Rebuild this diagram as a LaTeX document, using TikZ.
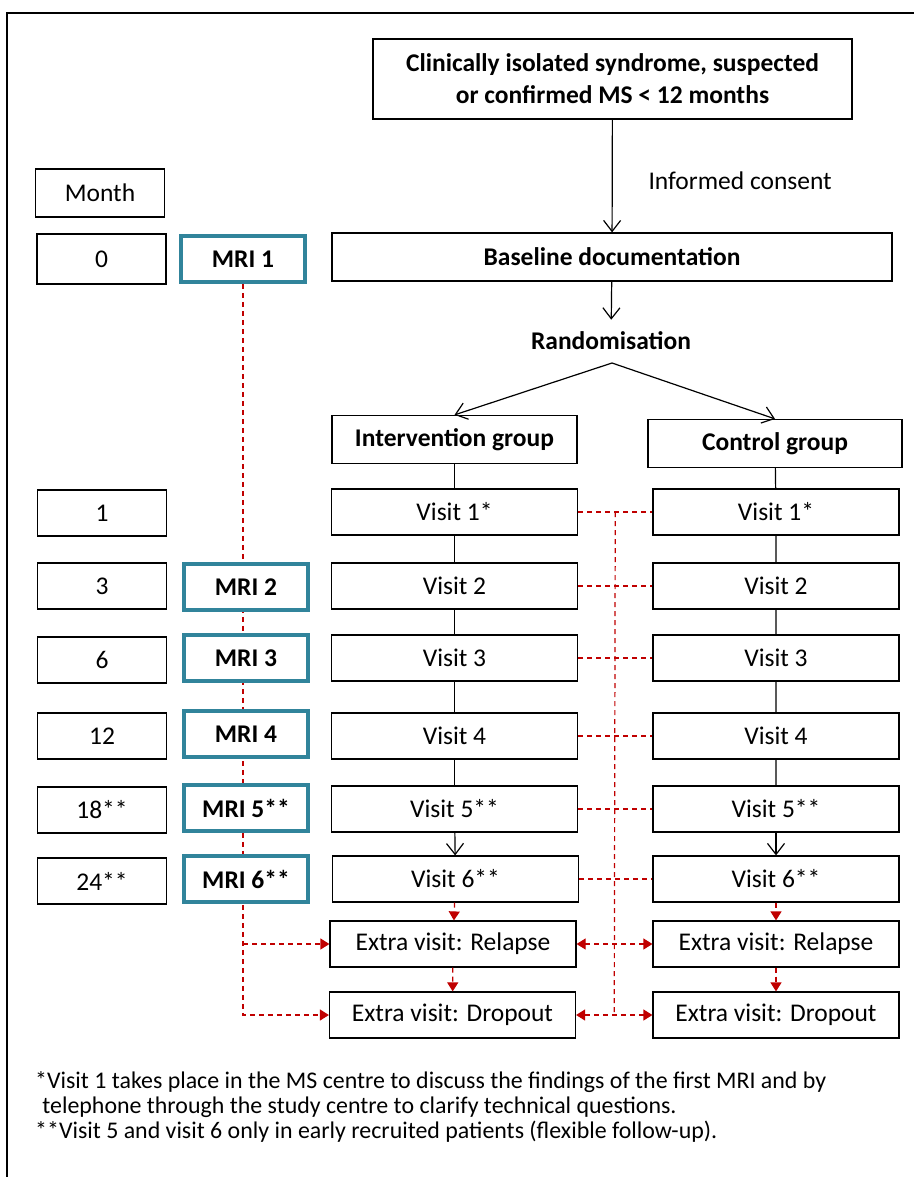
\documentclass[tikz,border=0pt]{standalone}
\usepackage{fontspec}
\setmainfont{Carlito}
\usepackage{xcolor}
\usetikzlibrary{arrows.meta,calc,backgrounds}
\definecolor{mriteal}{RGB}{49,132,155}
\definecolor{linkred}{RGB}{192,0,0}
\newcommand\boxfont{\fontsize{25.5}{32}\selectfont}
\newcommand\notefont{\fontsize{23.9}{25}\selectfont}
\tikzset{
	box/.style={draw, line width=1.2pt, fill=white, minimum height=46pt, inner sep=0pt, font=\boxfont},
	boldbox/.style={box, font=\boxfont\bfseries},
	monthbox/.style={box, minimum width=129pt},
	mribox/.style={boldbox, draw=mriteal, line width=3.5pt, minimum width=124pt},
	visitbox/.style={box, minimum width=246pt},
	plainline/.style={line width=1.2pt},
	reddash/.style={draw=linkred, line width=1.2pt, dash pattern=on 5pt off 4pt},
	redtip/.style={-{Triangle[length=9pt,width=11pt]}},
	redtips/.style={{Triangle[length=9pt,width=11pt]}-{Triangle[length=9pt,width=11pt]}},
	opentip/.style={-{Straight Barb[length=11pt,width=17pt]}}
}

\begin{document}
\begin{tikzpicture}[x=1pt, y=-1pt]
		\useasboundingbox (0,0) rectangle (914,1177);
		\draw[line width=1.5pt] (7,1177) -- (7,13) -- (914,13);

		\node[boldbox, minimum width=479pt, minimum height=80pt, align=center] (cis) at (612.5,79) {Clinically isolated syndrome, suspected\\or confirmed MS < 12 months};
		\node[anchor=west, font=\boxfont] (consent) at (645,181) {Informed consent};
		\node[boldbox, minimum width=560pt, minimum height=48pt] (base) at (612,257) {Baseline documentation};
		\node[font=\boxfont\bfseries, inner ysep=12pt] (rand) at (611,341) {Randomisation};
		\coordinate (split) at (612,363);

		\node[boldbox, minimum width=245pt, minimum height=48pt] (intgrp) at (454.5,439.5) {Intervention group};
		\node[boldbox, minimum width=254pt, minimum height=48pt] (ctlgrp) at (775,443.5) {Control group};

		\node[monthbox, minimum height=48pt] (month) at (100,193) {Month};
		\node[monthbox, minimum height=50pt] (m0) at (101.5,259) {0};
		\node[monthbox] (m1) at (102,513) {1};
		\node[monthbox] (m3) at (102,586) {3};
		\node[monthbox] (m6) at (102,660) {6};
		\node[monthbox] (m12) at (102,736) {12};
		\node[monthbox] (m18) at (102,810) {18**};
		\node[monthbox] (m24) at (102,881) {24**};

		\node[mribox] (mri1) at (243,259) {MRI 1};
		\node[mribox] (mri2) at (246,587) {MRI 2};
		\node[mribox] (mri3) at (246,658) {MRI 3};
		\node[mribox] (mri4) at (246,734) {MRI 4};
		\node[mribox] (mri5) at (246,808) {MRI 5**};
		\node[mribox] (mri6) at (246,879) {MRI 6**};

		\node[visitbox] (v1i) at (454.5,512) {Visit 1*};
		\node[visitbox] (v2i) at (454.5,586) {Visit 2};
		\node[visitbox] (v3i) at (454.5,658) {Visit 3};
		\node[visitbox] (v4i) at (454.5,736) {Visit 4};
		\node[visitbox] (v5i) at (454.5,809) {Visit 5**};
		\node[visitbox] (v6i) at (455.5,879) {Visit 6**};
		\node[visitbox] (reli) at (453,944) {Extra visit: Relapse};
		\node[visitbox] (dropi) at (452.5,1015) {Extra visit: Dropout};

		\node[visitbox] (v1c) at (776,512) {Visit 1*};
		\node[visitbox] (v2c) at (776,586) {Visit 2};
		\node[visitbox] (v3c) at (776,658) {Visit 3};
		\node[visitbox] (v4c) at (776,736) {Visit 4};
		\node[visitbox] (v5c) at (776,809) {Visit 5**};
		\node[visitbox] (v6c) at (776,879) {Visit 6**};
		\node[visitbox] (relc) at (776,944) {Extra visit: Relapse};
		\node[visitbox] (dropc) at (776,1015) {Extra visit: Dropout};

		\draw[plainline, opentip] (cis) -- (base);
		\draw[plainline, opentip] (base) -- (rand);
		\draw[plainline, opentip] (split) -- (intgrp.north);
		\draw[plainline, opentip] (split) -- (ctlgrp.north);

		\draw[plainline] (intgrp) -- (v1i) (v1i) -- (v2i) (v2i) -- (v3i) (v3i) -- (v4i) (v4i) -- (v5i);
		\draw[plainline, opentip] (v5i) -- (v6i);
		\draw[reddash, redtip] (v6i) -- (reli);
		\draw[reddash, redtip] (reli) -- (dropi);

		\draw[plainline] (ctlgrp) -- (v1c) (v1c) -- (v2c) (v2c) -- (v3c) (v3c) -- (v4c) (v4c) -- (v5c);
		\draw[plainline, opentip] (v5c) -- (v6c);
		\draw[reddash, redtip] (v6c) -- (relc);
		\draw[reddash, redtip] (relc) -- (dropc);

		\draw[reddash] (v1i) -- (v1c);
		\draw[reddash] (v2i) -- (v2c);
		\draw[reddash] (v3i) -- (v3c);
		\draw[reddash] (v4i) -- (v4c);
		\draw[reddash] (v5i) -- (v5c);
		\draw[reddash] (v6i) -- (v6c);
		\draw[reddash, redtips] (reli) -- (relc);
		\draw[reddash, redtips] (dropi) -- (dropc);
		\draw[reddash] ($(v1i.east)!.5!(v1c.west)$) -- ($(dropi.east)!.5!(dropc.west)$);

		\begin{scope}[on background layer]
			\draw[reddash, redtip] (mri1.south) |- (dropi.west);
			\draw[reddash, redtip] (mri1.south |- reli) -- (reli.west);
		\end{scope}

		\node[anchor=north west, align=left, inner sep=0pt, font=\notefont] (note) at (35,1071) {*Visit 1 takes place in the MS centre to discuss the findings of the first MRI and by\\\hspace{0.3em}telephone through the study centre to clarify technical questions.\\**Visit 5 and visit 6 only in early recruited patients (flexible follow-up).};
\end{tikzpicture}
\end{document}
